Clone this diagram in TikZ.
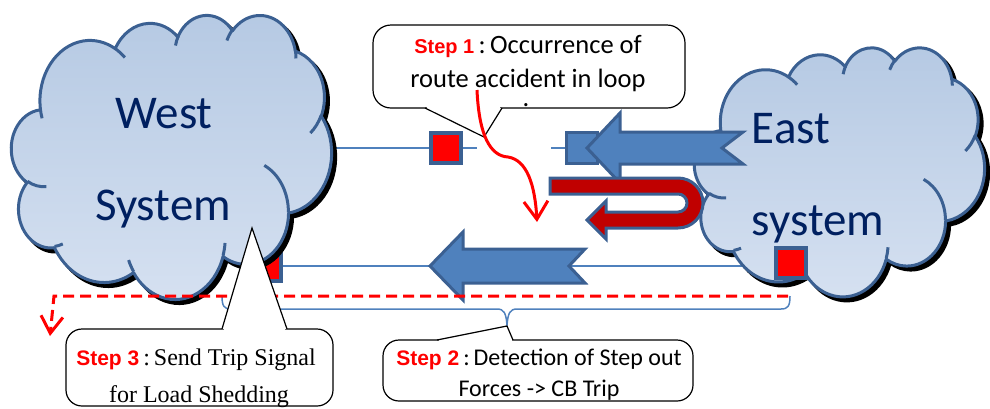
\documentclass[tikz,border=0pt]{standalone}
\usepackage{fontspec}
\setmainfont{Liberation Serif}
\newfontfamily\calibri{Carlito}
\newfontfamily\arialfont{Liberation Sans}
\usetikzlibrary{arrows.meta}

\definecolor{gridline}{RGB}{59,96,146}
\definecolor{cloudtop}{RGB}{181,201,227}
\definecolor{cloudbot}{RGB}{214,225,241}
\definecolor{navytext}{RGB}{0,32,96}
\definecolor{flowblue}{RGB}{79,129,189}
\definecolor{loopred}{RGB}{192,0,0}
\definecolor{stepred}{RGB}{255,0,0}

\newcommand{\steptag}[2][21]{{\arialfont\bfseries\fontsize{#1}{#1}\selectfont\color{stepred}#2}}

% elliptical arc given by radii, visual start angle and sweep (degrees)
\tikzset{puff/.style n args={4}{x radius=#1, y radius=#2,
  start angle={atan2(#1*sin(#3),#2*cos(#3))},
  delta angle={Mod(atan2(#1*sin(#3+#4),#2*cos(#3+#4))-atan2(#1*sin(#3),#2*cos(#3)),360)}}}

% cloud outline in a 432 x 432 box
\newcommand{\cloudoutline}[1]{\path[#1] (39.00,143.70)
  arc[puff={67.53}{91.90}{-190.4875}{123.7805}]
  arc[puff={53.33}{72.67}{-144.1024}{89.9452}]
  arc[puff={43.65}{59.45}{-145.8079}{99.7230}]
  arc[puff={48.57}{65.95}{-130.9861}{117.2417}]
  arc[puff={53.33}{72.73}{-78.7089}{109.0269}]
  arc[puff={67.75}{92.20}{-46.2673}{130.2690}]
  arc[puff={57.85}{78.67}{0.6250}{114.0333}]
  arc[puff={67.52}{92.15}{22.4516}{115.1726}]
  arc[puff={77.20}{105.43}{66.2426}{75.7110}]
  arc[puff={43.60}{59.18}{-274.9421}{146.7356}]
  arc[puff={43.45}{59.45}{-246.8285}{152.5189}] -- cycle;}

% short creases between the puffs
\newcommand{\cloudcreases}[1]{\path[#1]
  (46.93,261.77) arc[puff={43.45}{59.45}{86.7420}{26.4295}]
  (69.28,348.99) arc[puff={43.60}{59.18}{73.6105}{11.4475}]
  (164.78,390.90) arc[puff={67.52}{92.15}{137.6242}{14.0811}]
  (288.27,347.51) arc[puff={67.52}{92.15}{6.4533}{15.9984}]
  (341.29,229.54) arc[puff={57.85}{78.67}{-70.2924}{70.9174}]
  (417.98,153.54) arc[puff={53.33}{72.73}{30.3180}{27.7515}]
  (383.24,54.26) arc[puff={48.57}{65.95}{-13.7443}{14.8589}]
  (290.78,39.52) arc[puff={48.57}{65.95}{-149.1815}{18.1954}]
  (221.41,47.20) arc[puff={43.65}{59.45}{-163.4943}{17.6864}]
  (140.00,51.92) arc[puff={67.53}{91.90}{-66.7070}{12.3194}]
  (41.27,157.89) arc[puff={67.53}{91.90}{157.6544}{11.8582}];}

% a system cloud: left, top, width, height
\newcommand{\systemcloud}[4]{%
  \begin{scope}[shift={(#1+4,#2+4)}, xscale=#3/432, yscale=#4/432]
    \cloudoutline{fill=black, draw=black, line width=3pt, line join=round}
  \end{scope}
  \begin{scope}[shift={(#1,#2)}, xscale=#3/432, yscale=#4/432]
    \cloudoutline{draw=gridline, line width=3pt, line join=round, top color=cloudtop, bottom color=cloudbot}
    \cloudcreases{draw=gridline, line width=3pt}
  \end{scope}}

\begin{document}
\begin{tikzpicture}[x=1pt,y=-1pt,
  systext/.style={text=navytext, font=\calibri\fontsize{47}{47}\selectfont, anchor=base},
  breaker/.style={draw=gridline, fill=stepred, line width=4pt, minimum size=30pt, inner sep=0pt},
  busbox/.style={draw=gridline, fill=flowblue, line width=3pt, minimum size=31pt, inner sep=0pt},
  feeder/.style={draw=flowblue, line width=1.5pt},
  flow/.style={fill=flowblue, draw=gridline, line width=3pt, line join=miter},
  uturn/.style={fill=loopred, draw=gridline, line width=3pt, line join=miter},
  signal/.style={draw=stepred, line width=3pt, dash pattern=on 11pt off 6pt},
  bubble/.style={fill=white, draw=black, line width=1.2pt},
  bigtext/.style={font=\calibri\fontsize{26.5}{26.5}\selectfont, anchor=base, inner sep=0pt},
  calibritext/.style={font=\calibri\fontsize{24}{24}\selectfont, anchor=base, inner sep=0pt},
  timestext/.style={font=\fontsize{24}{24}\selectfont, anchor=base, inner sep=0pt}]
\useasboundingbox (0,0) rectangle (990,408);

% circuit breakers
\node[breaker] (cbWest) at (266,266) {};
\node[breaker] (cbLine) at (446,148) {};

% transmission lines
\coordinate (wbus) at (320,148);
\coordinate (gapL) at (477,148);
\coordinate (gapR) at (551,148);
\coordinate (ebus) at (760,266);
\draw[feeder] (wbus) -- (cbLine) -- (gapL);
\node[busbox] (bus) at (582,148) {};
\draw[feeder] (gapR) -- (bus);
\draw[feeder] (cbWest) -- (ebus);

% brace under the lower line
\coordinate (braceL) at (222,296);
\coordinate (braceR) at (790,296);
\coordinate (braceTip) at (507,325);
\draw[feeder] (braceL) .. controls (222,306) and (224,309) .. (231,309) -- (497,309)
  .. controls (504,309) and (506,313) .. (braceTip)
  .. controls (508,313) and (510,309) .. (517,309) -- (781,309)
  .. controls (788,309) and (790,306) .. (braceR);

% the two systems
\systemcloud{11.5}{14.5}{320}{284}
\node[systext] (westA) at (164,128) {West};
\node[systext] (westB) at (163,220) {System};
\systemcloud{694.5}{47}{290}{249}
\node[systext] (eastA) at (791,143) {East};
\node[systext] (eastB) at (818,235) {system};
\node[breaker] (cbEast) at (791,263) {};

% power flow arrows
\draw[flow] (587,148) -- (620,113) -- (620,132) -- (743,132) -- (722,148)
  -- (743,164) -- (620,164) -- (620,183) -- cycle;
\draw[uturn] (550,178) -- (678,178) arc[start angle=-90, end angle=90, radius=25]
  -- (606,228) -- (606,239) -- (587,220) -- (606,201) -- (606,212) -- (678,212)
  arc[start angle=90, end angle=-90, radius=9] -- (550,194) -- cycle;
\draw[flow] (430,266) -- (463,232) -- (463,249) -- (585,249) -- (569,266)
  -- (585,283) -- (463,283) -- (463,300) -- cycle;

% load shedding trip signal
\coordinate (sigStart) at (788,296);
\coordinate (sigCorner) at (54,296);
\coordinate (sigEnd) at (50,336);
\draw[signal, -{Straight Barb[length=17pt, width=22pt]}] (sigStart) -- (sigCorner) -- (sigEnd);

% step 1 callout
\coordinate (tip1) at (484,137);
\draw[bubble, rounded corners=18pt] (373,25) rectangle (685,108);
\fill[white] (tip1) -- (425,108) -- (502,108) -- cycle;
\draw[white, line width=2.5pt] (427,108) -- (500,108);
\draw[black, line width=1.2pt] (425,108) -- (tip1) -- (502,108);
\node[bigtext] (s1a) at (528,53) {\steptag[20]{Step 1}\,:\,Occurrence of};
\node[bigtext] (s1b) at (528,87) {route accident in loop};
\node[bigtext] (s1c) at (526,106) {.};

% step 2 callout
\coordinate (tip2) at (507,326);
\draw[bubble, rounded corners=16pt] (383,340) rectangle (693,401);
\fill[white] (tip2) -- (437,340) -- (513,340) -- cycle;
\draw[white, line width=2.5pt] (439,340) -- (512,340);
\draw[black, line width=1.2pt] (437,340) -- (tip2) -- (513,340);
\node[calibritext] (s2a) at (539,365) {\steptag{Step 2}\,:\,Detection of Step out};
\node[calibritext] (s2b) at (539,396) {Forces -> CB Trip};

% step 3 callout
\coordinate (tip3) at (252,228);
\draw[bubble, rounded corners=16pt] (66,329) rectangle (333,406);
\fill[white] (tip3) -- (222,329) -- (287,329) -- cycle;
\draw[white, line width=2.5pt] (224,329) -- (285,329);
\draw[black, line width=1.2pt] (222,329) -- (tip3) -- (287,329);
\node[timestext] (s3a) at (196,365) {\steptag{Step 3}\,:\,Send Trip Signal};
\node[timestext] (s3b) at (199,402) {for Load Shedding};

% fault propagation
\coordinate (accStart) at (477,90);
\coordinate (accMid) at (508,157);
\coordinate (accEnd) at (537,222);
\draw[stepred, line width=3pt, -{Straight Barb[length=18pt, width=24pt]}]
  (accStart) .. controls (479,135) and (490,156) .. (accMid)
  .. controls (527,160) and (535,185) .. (accEnd);
\end{tikzpicture}
\end{document}
